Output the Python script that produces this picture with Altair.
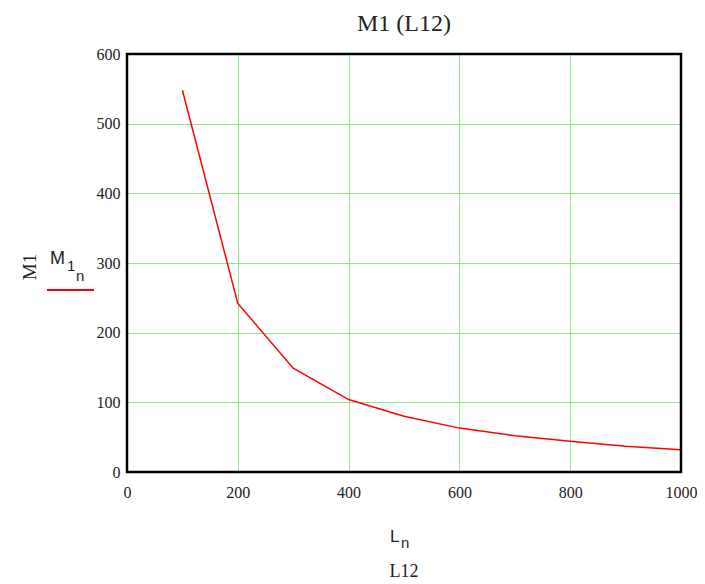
import altair as alt
import pandas as pd

L_values = [100, 200, 300, 400, 500, 600, 700, 800, 900, 1000]
M1_values = [548, 242, 149, 104, 80, 63, 52, 44, 37, 32]
x_ticks = [0, 200, 400, 600, 800, 1000]
y_ticks = [0, 100, 200, 300, 400, 500, 600]

df = pd.DataFrame({"L": L_values, "M1": M1_values})
one = pd.DataFrame({"a": [0]})

serif = "Liberation Serif"
sans = "Liberation Sans"

line = alt.Chart(df).mark_line(color="#ff0000", strokeWidth=1.5, clip=False).encode(
    x=alt.X("L:Q", scale=alt.Scale(domain=[0, 1000], nice=False),
            axis=alt.Axis(values=x_ticks, title=None, grid=True, gridColor="#8ee88e",
                          ticks=False, domain=False, labelFont=serif, labelFontSize=16,
                          format="d", labelColor="#222", labelPadding=12, labelFlush=False)),
    y=alt.Y("M1:Q", scale=alt.Scale(domain=[0, 600], nice=False),
            axis=alt.Axis(values=y_ticks, title=None, grid=True, gridColor="#8ee88e",
                          ticks=False, domain=False, labelFont=serif, labelFontSize=16,
                          labelColor="#222", labelPadding=7)),
)

border = alt.Chart(one).mark_rect(fill=None, stroke="#000000", strokeWidth=2.5).encode(
    x=alt.value(0), x2=alt.value(554), y=alt.value(0), y2=alt.value(418)
)

def txt(text, x, y, size, font, angle=0, align="left"):
    return alt.Chart(one).mark_text(
        text=text, font=font, fontSize=size, color="#222", align=align,
        baseline="alphabetic", angle=angle
    ).encode(x=alt.value(x), y=alt.value(y))

labels = [
    # bottom axis title: L_n and L12
    txt("L", 263, 488, 17, sans),
    txt("n", 274, 494, 15, sans),
    txt("L12", 277, 523, 18, serif, align="center"),
    # left axis title
    txt("M1", -91, 213, 19, serif, angle=270, align="center"),
    # legend label M1_n
    txt("M", -77, 210, 18, sans),
    txt("1", -60, 217, 15, sans),
    txt("n", -51, 227, 15, sans),
]

legend_line = alt.Chart(one).mark_rule(color="#ff0000", strokeWidth=2).encode(
    x=alt.value(-80), x2=alt.value(-33), y=alt.value(236)
)

chart = alt.layer(line, border, legend_line, *labels).properties(
    width=554, height=418,
    title=alt.TitleParams("M1 (L12)", font=serif, fontSize=24, fontWeight="normal",
                          color="#222", anchor="middle", offset=10),
    autosize=alt.AutoSizeParams(type="none"),
    padding={"left": 119, "top": 46, "right": 16, "bottom": 112},
).configure_view(stroke=None)

chart.save("out.html", embed_options={"renderer": "svg", "actions": False})
